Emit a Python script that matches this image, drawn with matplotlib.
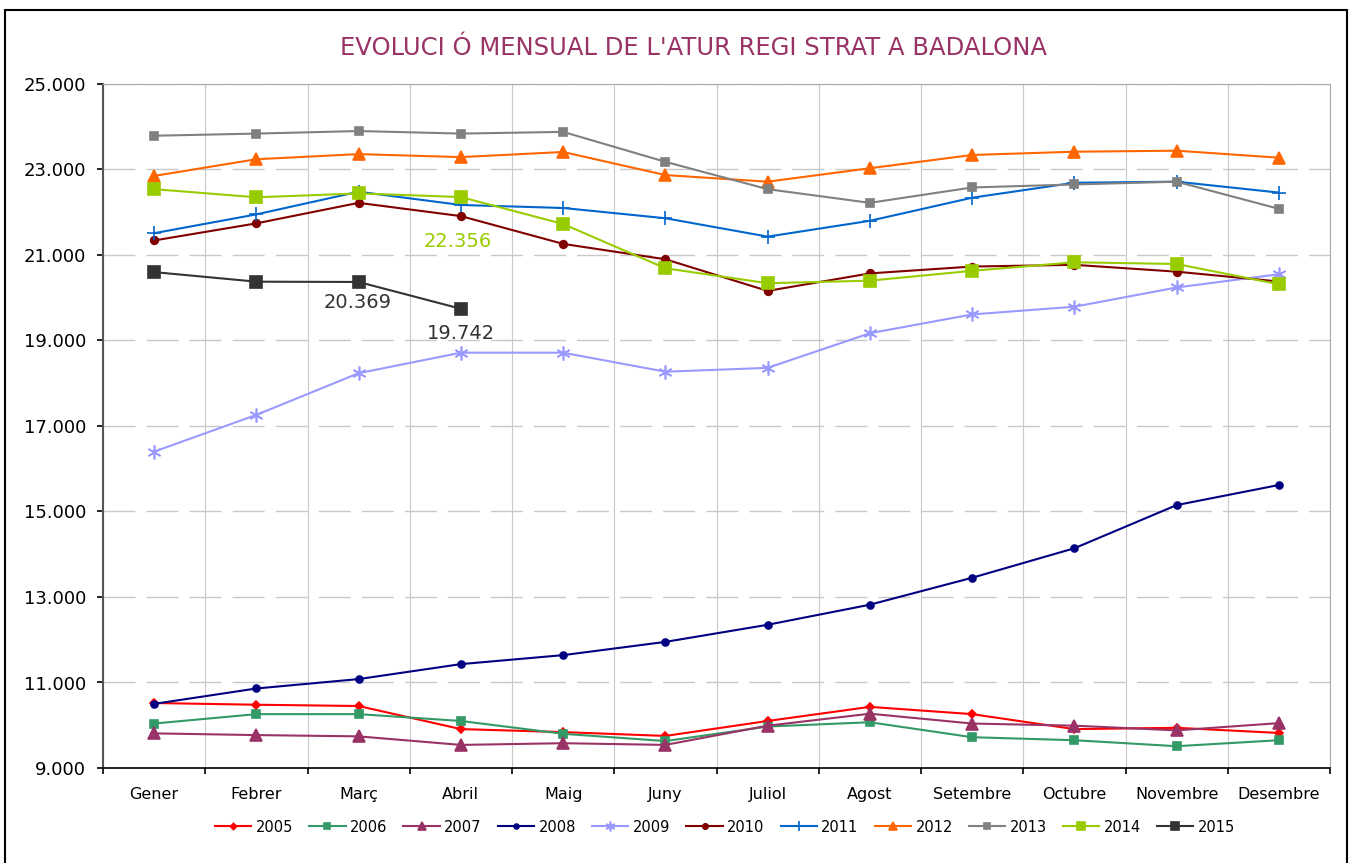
import numpy as np
import matplotlib
matplotlib.use('Agg')
import matplotlib.pyplot as plt
from matplotlib.patches import Rectangle

# monthly registered unemployment, Badalona
months = ['Gener', 'Febrer', 'Març', 'Abril', 'Maig', 'Juny', 'Juliol',
          'Agost', 'Setembre', 'Octubre', 'Novembre', 'Desembre']

atur_2005 = [10520, 10480, 10450, 9910, 9840, 9750, 10100, 10430, 10260, 9910, 9940, 9820]
atur_2006 = [10040, 10260, 10260, 10100, 9800, 9630, 9970, 10070, 9720, 9650, 9510, 9650]
atur_2007 = [9810, 9770, 9740, 9540, 9580, 9540, 9990, 10270, 10040, 9990, 9880, 10050]
atur_2008 = [10500, 10860, 11080, 11430, 11640, 11950, 12350, 12820, 13450, 14140, 15150, 15620]
atur_2009 = [16400, 17260, 18235, 18715, 18715, 18270, 18360, 19170, 19610, 19790, 20240, 20550]
atur_2010 = [21340, 21740, 22220, 21910, 21260, 20900, 20160, 20570, 20730, 20770, 20610, 20380]
atur_2011 = [21510, 21950, 22480, 22170, 22100, 21860, 21430, 21800, 22340, 22690, 22715, 22460]
atur_2012 = [22850, 23240, 23360, 23290, 23410, 22870, 22715, 23030, 23340, 23416, 23440, 23276]
atur_2013 = [23790, 23840, 23900, 23840, 23880, 23180, 22540, 22220, 22580, 22650, 22715, 22080]
atur_2014 = [22540, 22350, 22440, 22356, 21725, 20690, 20340, 20400, 20630, 20830, 20790, 20315]
atur_2015 = [20600, 20376, 20369, 19742]

years = ['2005', '2006', '2007', '2008', '2009', '2010', '2011', '2012', '2013', '2014', '2015']
series = [atur_2005, atur_2006, atur_2007, atur_2008, atur_2009, atur_2010,
          atur_2011, atur_2012, atur_2013, atur_2014, atur_2015]

colors = ['#ff0000', '#339966', '#993366', '#000080', '#9999ff', '#800000',
          '#0066cc', '#ff6600', '#808080', '#99cc00', '#333333']
markers = ['D', 's', '^', 'o', (6, 2, 0), 'o', '+', '^', 's', 's', 's']
msizes = [4.5, 5.5, 9, 5, 10, 5.5, 10, 9, 5.5, 8.5, 8.5]

plt.rcParams['font.family'] = 'DejaVu Sans'

fig = plt.figure(figsize=(13.51, 8.63), dpi=100)
ax = fig.add_axes([103/1351, 1-768/863, (1330-103)/1351, (768-84)/863])

x = np.arange(len(months))
for yr, vals, c, m, ms in zip(years, series, colors, markers, msizes):
    ax.plot(x[:len(vals)], vals, color=c, marker=m, markersize=ms, lw=1.5,
            markeredgecolor=c, markeredgewidth=1.2, label=yr)

# value labels
ax.annotate('22.356', xy=(3, atur_2014[3]), xytext=(-2, -32), textcoords='offset points',
            ha='center', va='center', fontsize=14, color='#99cc00')
ax.annotate('20.369', xy=(2, atur_2015[2]), xytext=(-1, -14.5), textcoords='offset points',
            ha='center', va='center', fontsize=14, color='#333333')
ax.annotate('19.742', xy=(3, atur_2015[3]), xytext=(0, -17.5), textcoords='offset points',
            ha='center', va='center', fontsize=14, color='#333333')

ax.set_xlim(-0.5, 11.5)
ax.set_ylim(9000, 25000)
ax.set_yticks(np.arange(9000, 25001, 2000))
ax.set_yticklabels([f'{v:,}'.replace(',', '.') for v in range(9000, 25001, 2000)])
ax.set_xticks(x)
ax.set_xticklabels(months)
ax.set_xticks(np.arange(-0.5, 12, 1), minor=True)

ax.tick_params(axis='x', which='major', length=0, pad=14, labelsize=11.5)
ax.tick_params(axis='x', which='minor', length=4, width=1.2, direction='out')
ax.tick_params(axis='y', length=4, width=1.2, pad=8, labelsize=13)

ax.grid(axis='y', color='#c8c8c8', lw=1, dashes=(23, 8))
ax.grid(axis='x', which='minor', color='#c8c8c8', lw=0.8)
ax.set_axisbelow(True)

ax.spines['left'].set_color('#555555')
ax.spines['left'].set_linewidth(1.5)
ax.spines['bottom'].set_color('black')
ax.spines['bottom'].set_linewidth(1.2)
ax.spines['top'].set_color('#a8a8a8')
ax.spines['right'].set_color('#a8a8a8')

fig.text(693/1351, 1-48/863, "EVOLUCI Ó MENSUAL DE L'ATUR REGI STRAT A BADALONA",
         ha='center', va='center', fontsize=17.5, color='#993366')

fig.legend(loc='center', bbox_to_anchor=(725/1351, 1-827/863), ncol=11, frameon=False,
           fontsize=10.5, handlelength=2.5, handletextpad=0.3, columnspacing=1.1,
           numpoints=1, markerscale=0.7)

# outer border
fig.patches.append(Rectangle((5/1351, -0.05), (1347-5)/1351, 1.05-10/863,
                             transform=fig.transFigure, fill=False, ec='black', lw=1.5))

fig.savefig('out.png', dpi=100)
